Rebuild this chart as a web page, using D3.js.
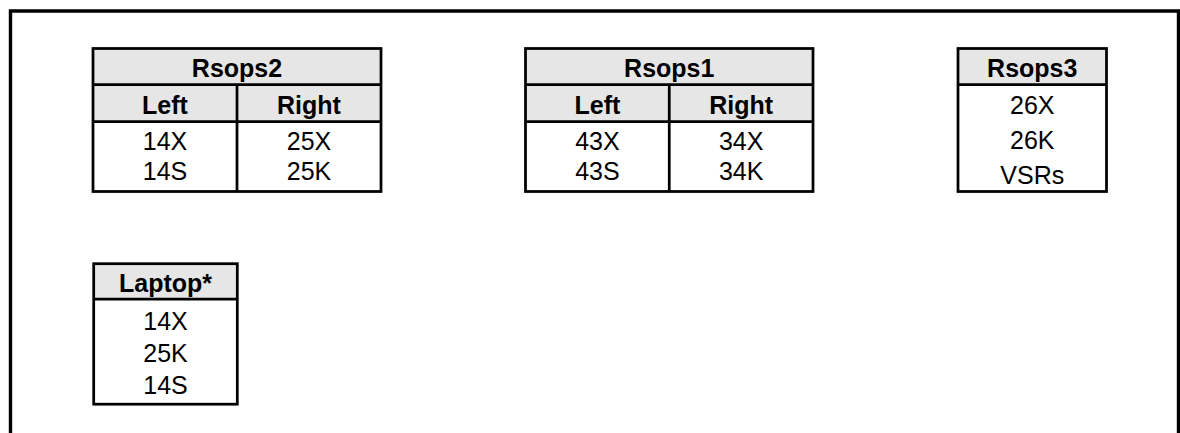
<!DOCTYPE html>
<html>
<head>
<meta charset="utf-8">
<script src="https://cdnjs.cloudflare.com/ajax/libs/d3/7.8.5/d3.min.js"></script>
<style>
    html, body { margin: 0; padding: 0; background: #fff; }
    svg { display: block; }
</style>
</head>
<body>
<div id="chart"></div>
<script>
    // Dados das tabelas
    const tableTitles = ["Rsops2", "Rsops1", "Rsops3", "Laptop*"];
    const sideHeaders = ["Left", "Right"];
    const rsops2Left = ["14X", "14S"];
    const rsops2Right = ["25X", "25K"];
    const rsops1Left = ["43X", "43S"];
    const rsops1Right = ["34X", "34K"];
    const rsops3Items = ["26X", "26K", "VSRs"];
    const laptopItems = ["14X", "25K", "14S"];

    const width = 1180;
    const height = 433;
    const fontSize = 25;
    const lineW = 2.75;
    const headFill = "#e6e6e6";

    // Layout (posição de cada tabela)
    const tables = [
        { title: tableTitles[0], headers: sideHeaders, columns: [rsops2Left, rsops2Right],
          x0: 93, x1: 381, y0: 48.5, titleH: 36, headH: 37, bodyH: 70, gap: 30, dy: 0 },
        { title: tableTitles[1], headers: sideHeaders, columns: [rsops1Left, rsops1Right],
          x0: 525.5, x1: 813, y0: 48.5, titleH: 36, headH: 37, bodyH: 70, gap: 30, dy: 0 },
        { title: tableTitles[2], headers: null, columns: [rsops3Items],
          x0: 958, x1: 1106.5, y0: 48.5, titleH: 36, headH: 0, bodyH: 107, gap: 35, dy: 2 },
        { title: tableTitles[3], headers: null, columns: [laptopItems],
          x0: 93.7, x1: 237.3, y0: 263.7, titleH: 35.5, headH: 0, bodyH: 105, gap: 32, dy: 1 }
    ];

    const svg = d3.select("#chart")
        .append("svg")
        .attr("width", width)
        .attr("height", height)
        .style("font-family", "'Liberation Sans', Arial, sans-serif");

    // Moldura externa (sem borda inferior)
    svg.append("path")
        .attr("d", `M10.5,${height + 5}V11H1178.5V${height + 5}`)
        .attr("fill", "none")
        .attr("stroke", "#000")
        .attr("stroke-width", 3.4);

    const baseline = c => c + fontSize * 0.358;

    tables.forEach(t => {
        const g = svg.append("g");
        const nCols = t.columns.length;
        const x = d3.scaleBand()
            .domain(d3.range(nCols))
            .range([t.x0, t.x1]);

        const yTitle = t.y0 + t.titleH;
        const yHead = yTitle + t.headH;
        const yEnd = yHead + t.bodyH;
        const nRows = d3.max(t.columns, c => c.length);
        const mid = (yHead + yEnd) / 2 + t.dy;

        const yRow = d3.scaleLinear()
            .domain([0, nRows - 1])
            .range([mid - t.gap * (nRows - 1) / 2, mid + t.gap * (nRows - 1) / 2]);

        // Fundo cinza do cabeçalho
        g.append("rect")
            .attr("x", t.x0)
            .attr("y", t.y0)
            .attr("width", t.x1 - t.x0)
            .attr("height", yHead - t.y0)
            .attr("fill", headFill);

        // Título
        g.append("text")
            .attr("x", (t.x0 + t.x1) / 2)
            .attr("y", baseline(t.y0 + t.titleH / 2 + 2))
            .attr("text-anchor", "middle")
            .attr("font-weight", "bold")
            .attr("font-size", fontSize)
            .text(t.title);

        // Sub-cabeçalhos Left / Right
        if (t.headers) {
            g.selectAll(".head")
                .data(t.headers)
                .enter()
                .append("text")
                .attr("x", (d, i) => x(i) + x.bandwidth() / 2)
                .attr("y", baseline(yTitle + t.headH / 2 + 2))
                .attr("text-anchor", "middle")
                .attr("font-weight", "bold")
                .attr("font-size", fontSize)
                .text(d => d);
        }

        // Valores
        t.columns.forEach((col, ci) => {
            g.selectAll(null)
                .data(col)
                .enter()
                .append("text")
                .attr("x", x(ci) + x.bandwidth() / 2)
                .attr("y", (d, i) => baseline(yRow(i)))
                .attr("text-anchor", "middle")
                .attr("font-size", fontSize)
                .text(d => d);
        });

        // Linhas horizontais
        const hLines = [yTitle];
        if (t.headers) hLines.push(yHead);
        g.selectAll(".hline")
            .data(hLines)
            .enter()
            .append("line")
            .attr("x1", t.x0)
            .attr("x2", t.x1)
            .attr("y1", d => d)
            .attr("y2", d => d)
            .attr("stroke", "#000")
            .attr("stroke-width", lineW);

        // Divisórias verticais entre colunas
        if (nCols > 1) {
            g.selectAll(".vline")
                .data(d3.range(1, nCols))
                .enter()
                .append("line")
                .attr("x1", d => x(d))
                .attr("x2", d => x(d))
                .attr("y1", yTitle)
                .attr("y2", yEnd)
                .attr("stroke", "#000")
                .attr("stroke-width", lineW);
        }

        // Borda da tabela
        g.append("rect")
            .attr("x", t.x0)
            .attr("y", t.y0)
            .attr("width", t.x1 - t.x0)
            .attr("height", yEnd - t.y0)
            .attr("fill", "none")
            .attr("stroke", "#000")
            .attr("stroke-width", lineW);
    });
</script>
</body>
</html>
